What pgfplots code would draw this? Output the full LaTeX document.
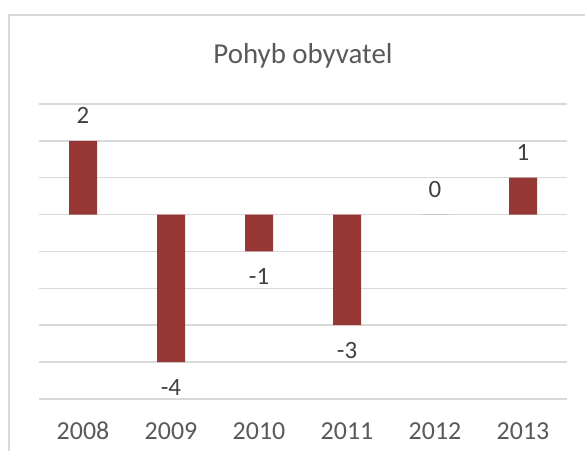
\documentclass[border=0pt]{standalone}
\usepackage{fontspec}
\setmainfont{Carlito}
\usepackage{pgfplots}
\pgfplotsset{compat=1.18}
\definecolor{barc}{HTML}{953735}
\definecolor{gridc}{HTML}{D9D9D9}
\definecolor{txtc}{HTML}{595959}
\definecolor{lblc}{HTML}{404040}
\begin{document}
\begin{tikzpicture}[x=1bp,y=1bp]
\path[use as bounding box] (0,0) rectangle (585,451);
\draw[gridc, line width=1.5bp] (9.2,0) -- (9.2,436) -- (585,436);
\node[txtc, anchor=base, inner sep=0pt, font=\fontsize{29}{34}\selectfont] at (303,387.7) {Pohyb obyvatel};
\begin{axis}[
  at={(39bp,52bp)}, anchor=south west,
  scale only axis, width=528bp, height=295bp,
  ymin=-5, ymax=3, xmin=-0.5, xmax=5.5,
  ytick={-5,-4,...,3}, yticklabels={},
  ymajorgrids, major grid style={draw=gridc, line width=1.5bp},
  axis line style={draw=none},
  tick style={draw=none},
  xtick={0,1,2,3,4,5},
  xticklabels={2008,2009,2010,2011,2012,2013},
  xticklabel style={anchor=base, yshift=-36bp, inner sep=0pt, text=txtc, font=\fontsize{26}{30}\selectfont},
  /pgf/number format/assume math mode=true,
  ybar, bar width=28bp,
  nodes near coords,
  nodes near coords align={vertical},
  every node near coord/.append style={text=lblc, font=\fontsize{25}{30}\selectfont, inner xsep=0pt, inner ysep=17bp},
  clip=false,
]
\addplot[fill=barc, draw=none] coordinates {(0,2) (1,-4) (2,-1) (3,-3) (4,0) (5,1)};
\end{axis}
\end{tikzpicture}
\end{document}
